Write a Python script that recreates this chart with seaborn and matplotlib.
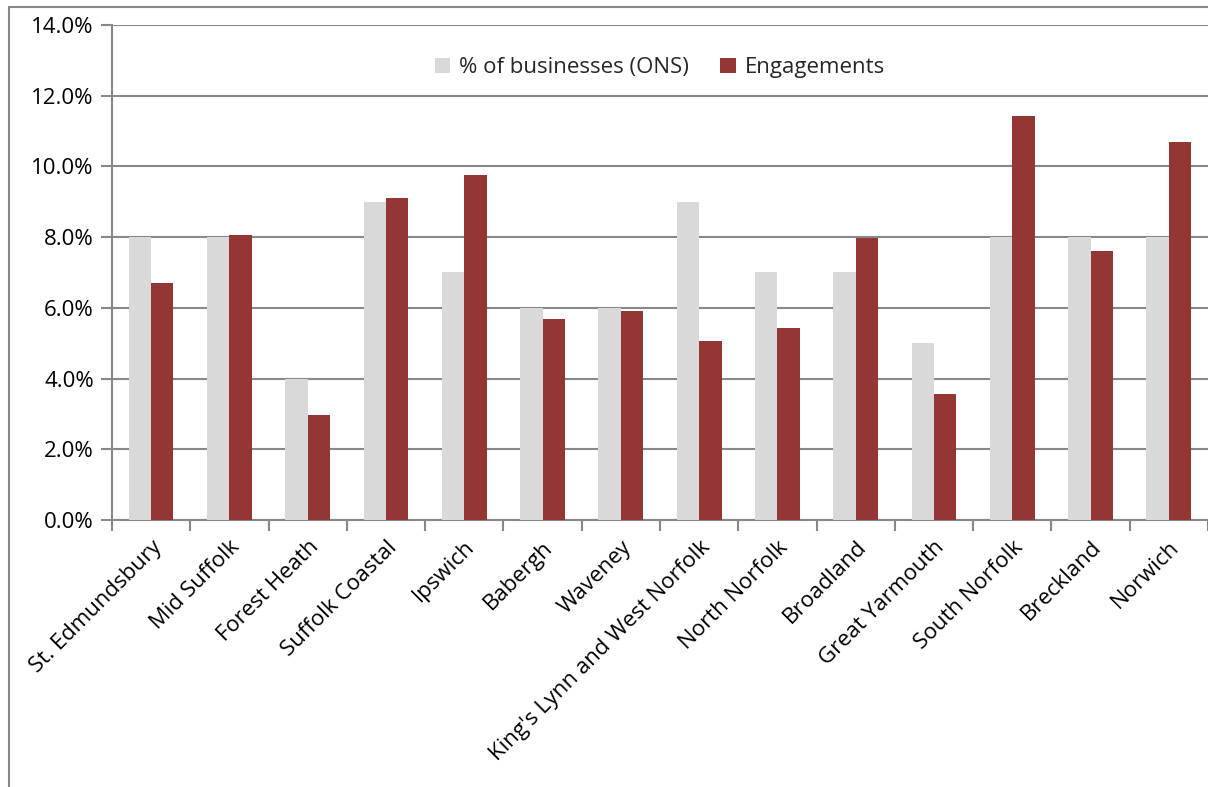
import matplotlib
matplotlib.use("Agg")
import matplotlib.pyplot as plt
from matplotlib.lines import Line2D
from matplotlib.ticker import FuncFormatter, FixedLocator
import seaborn as sns
import pandas as pd

districts = ["St. Edmundsbury", "Mid Suffolk", "Forest Heath", "Suffolk Coastal",
             "Ipswich", "Babergh", "Waveney", "King's Lynn and West Norfolk",
             "North Norfolk", "Broadland", "Great Yarmouth", "South Norfolk",
             "Breckland", "Norwich"]
ons_share = [8.0, 8.0, 4.0, 9.0, 7.0, 6.0, 6.0, 9.0, 7.0, 7.0, 5.0, 8.0, 8.0, 8.0]
engagements = [6.70, 8.05, 2.97, 9.12, 9.76, 5.69, 5.91, 5.06, 5.44, 7.98, 3.56,
               11.44, 7.62, 10.70]
series_names = ["% of businesses (ONS)", "Engagements"]
y_ticks = [0, 2, 4, 6, 8, 10, 12, 14]

df = pd.DataFrame({
    "district": districts * 2,
    "series": [series_names[0]] * len(districts) + [series_names[1]] * len(districts),
    "value": ons_share + engagements,
})

sns.set_theme(style="white")
plt.rcParams["font.family"] = ["Open Sans", "DejaVu Sans"]

fs = 16
grid_col = "#888888"
fig = plt.figure(figsize=(12.08, 7.87), dpi=100)
ax = fig.add_axes([0.0927, 0.3393, 0.9073, 0.6289])

sns.barplot(data=df, x="district", y="value", hue="series",
            palette=["#D9D9D9", "#943634"], width=2 / 3.5,
            saturation=1, ax=ax, legend=True, zorder=3, linewidth=0)

ax.set_ylim(0, 14)
ax.set_xlim(-0.5, len(districts) - 0.5)
ax.set_yticks(y_ticks)
ax.yaxis.set_major_formatter(FuncFormatter(lambda v, p: f"{v:.1f}%"))
ax.grid(axis="y", color=grid_col, linewidth=1.5, zorder=0)
ax.set_axisbelow(True)
ax.set_xlabel("")
ax.set_ylabel("")

for s in ["top", "right"]:
    ax.spines[s].set_visible(False)
for s in ["left", "bottom"]:
    ax.spines[s].set_color(grid_col)
    ax.spines[s].set_linewidth(1.5)

ax.tick_params(axis="y", which="major", left=True, length=8, width=1.5,
               color=grid_col, labelsize=fs, labelcolor="black", pad=5)
ax.tick_params(axis="x", which="major", length=0, labelsize=fs,
               labelcolor="black", pad=12)
ax.xaxis.set_minor_locator(FixedLocator([i + 0.5 for i in range(-1, len(districts))]))
ax.tick_params(axis="x", which="minor", bottom=True, length=8, width=1.5,
               color=grid_col)
for lab in ax.get_xticklabels():
    lab.set_rotation(45)
    lab.set_ha("right")
    lab.set_rotation_mode("anchor")

leg = ax.legend(loc="upper center", bbox_to_anchor=(0.5, 0.975), ncol=2,
                frameon=False, fontsize=fs, handlelength=0.7, handleheight=0.7,
                handletextpad=0.4, columnspacing=1.4)

# outer chart frame
fig.add_artist(Line2D([9 / 1208, 1], [1 - 7 / 787] * 2, color=grid_col,
                      linewidth=1.5, transform=fig.transFigure))
fig.add_artist(Line2D([9 / 1208] * 2, [0, 1 - 7 / 787], color=grid_col,
                      linewidth=1.5, transform=fig.transFigure))

fig.savefig("out.png", dpi=100)
